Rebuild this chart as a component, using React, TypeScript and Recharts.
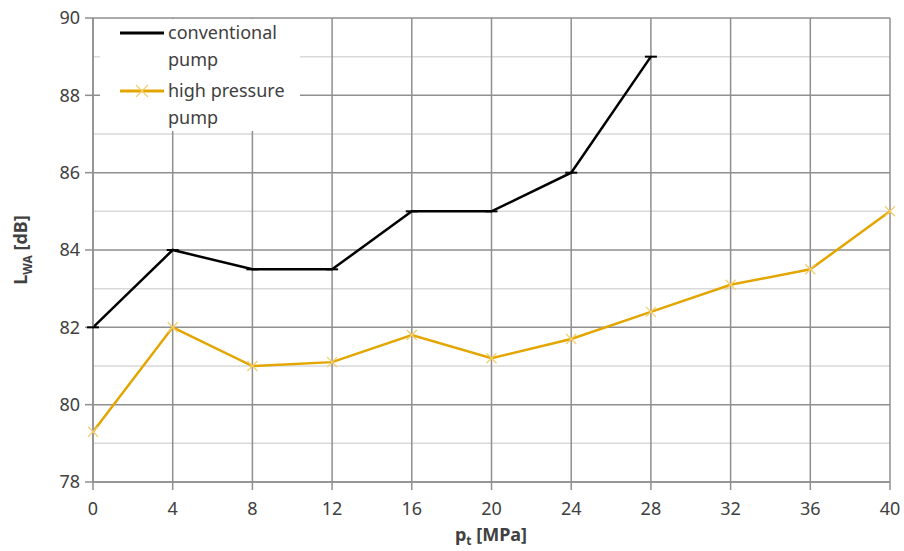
import React from 'react';
import { LineChart, Line, XAxis, YAxis, CartesianGrid } from 'recharts';

const pressure = [0, 4, 8, 12, 16, 20, 24, 28, 32, 36, 40];
const conventionalPump = [82, 84, 83.5, 83.5, 85, 85, 86, 89, null, null, null];
const highPressurePump = [79.3, 82, 81, 81.1, 81.8, 81.2, 81.7, 82.4, 83.1, 83.5, 85];

const xTicks = [0, 4, 8, 12, 16, 20, 24, 28, 32, 36, 40];
const yTicks = [78, 80, 82, 84, 86, 88, 90];
const minorY = [79, 81, 83, 85, 87, 89];

const data = pressure.map((p, i) => ({
  p,
  conventional: conventionalPump[i],
  high: highPressurePump[i],
}));

const FONT = '"Noto Sans", "Liberation Sans", sans-serif';
const TEXT = '#404040';
const YELLOW = '#E3A600';
const YELLOW_MARK = '#F2CF6A';

const DashDot = (props: any) => {
  const { cx, cy } = props;
  if (cx == null || cy == null) return null;
  return <line x1={cx - 6} x2={cx + 6} y1={cy} y2={cy} stroke="#000" strokeWidth={2} />;
};

const CrossDot = (props: any) => {
  const { cx, cy } = props;
  if (cx == null || cy == null) return null;
  const s = 5;
  return (
    <g stroke={YELLOW_MARK} strokeWidth={1.3}>
      <line x1={cx - s} y1={cy - s} x2={cx + s} y2={cy + s} />
      <line x1={cx - s} y1={cy + s} x2={cx + s} y2={cy - s} />
    </g>
  );
};

// legend drawn as a white box over the top-left of the plot, as in the original
const LegendBox = () => (
  <div
    style={{
      position: 'absolute',
      left: 100,
      top: 19,
      width: 200,
      height: 112,
      background: '#fff',
      fontFamily: FONT,
      fontSize: 18,
      color: TEXT,
      lineHeight: '27px',
    }}
  >
    <div style={{ display: 'flex' }}>
      <svg width={68} height={27}><line x1={20} x2={64} y1={14} y2={14} stroke="#000" strokeWidth={3} /></svg>
      <div>conventional<br />pump</div>
    </div>
    <div style={{ display: 'flex', marginTop: 4 }}>
      <svg width={68} height={27}>
        <line x1={20} x2={64} y1={14} y2={14} stroke={YELLOW} strokeWidth={3} />
        <line x1={36} y1={8} x2={48} y2={20} stroke={YELLOW_MARK} strokeWidth={1.3} />
        <line x1={36} y1={20} x2={48} y2={8} stroke={YELLOW_MARK} strokeWidth={1.3} />
      </svg>
      <div>high pressure<br />pump</div>
    </div>
  </div>
);

const YLabel = () => (
  <text transform="translate(27,250) rotate(-90)" textAnchor="middle" fontFamily={FONT} fontSize={18} fontWeight="bold" fill={TEXT}>
    L<tspan fontSize={12} dy={5}>WA</tspan><tspan dy={-5}> [dB]</tspan>
  </text>
);

const XLabel = () => (
  <text x={491} y={541} textAnchor="middle" fontFamily={FONT} fontSize={18} fontWeight="bold" fill={TEXT}>
    p<tspan fontSize={12} dy={4}>t</tspan><tspan dy={-4}> [MPa]</tspan>
  </text>
);

export default function App() {
  return (
    <div style={{ position: 'absolute', left: 0, top: 0, width: 904, height: 551, background: '#fff' }}>
      <LineChart width={904} height={551} data={data} margin={{ top: 18, right: 14, left: 0, bottom: 0 }}>
        <CartesianGrid horizontalValues={minorY} vertical={false} stroke="#d9d9d9" strokeWidth={1.5} />
        <CartesianGrid horizontalValues={yTicks} verticalValues={xTicks} stroke="#8f8f8f" strokeWidth={1.5} />
        <XAxis
          dataKey="p"
          type="number"
          domain={[0, 40]}
          ticks={xTicks}
          axisLine={{ stroke: '#8f8f8f', strokeWidth: 1.5 }}
          tickLine={{ stroke: '#8f8f8f', strokeWidth: 1.5 }}
          tickSize={8}
          tickMargin={12}
          height={69}
          tick={{ fill: TEXT, fontSize: 18, fontFamily: FONT }}
          label={<XLabel />}
        />
        <YAxis
          type="number"
          domain={[78, 90]}
          ticks={yTicks}
          width={93}
          axisLine={{ stroke: '#8f8f8f', strokeWidth: 1.5 }}
          tickLine={{ stroke: '#8f8f8f', strokeWidth: 1.5 }}
          tickSize={8}
          tickMargin={5}
          tick={{ fill: TEXT, fontSize: 18, fontFamily: FONT }}
          label={<YLabel />}
        />
        <Line
          dataKey="conventional"
          stroke="#000"
          strokeWidth={2.5}
          dot={<DashDot />}
          activeDot={false}
          isAnimationActive={false}
          connectNulls={false}
        />
        <Line
          dataKey="high"
          stroke={YELLOW}
          strokeWidth={2.5}
          dot={<CrossDot />}
          activeDot={false}
          isAnimationActive={false}
        />
      </LineChart>
      <LegendBox />
    </div>
  );
}
